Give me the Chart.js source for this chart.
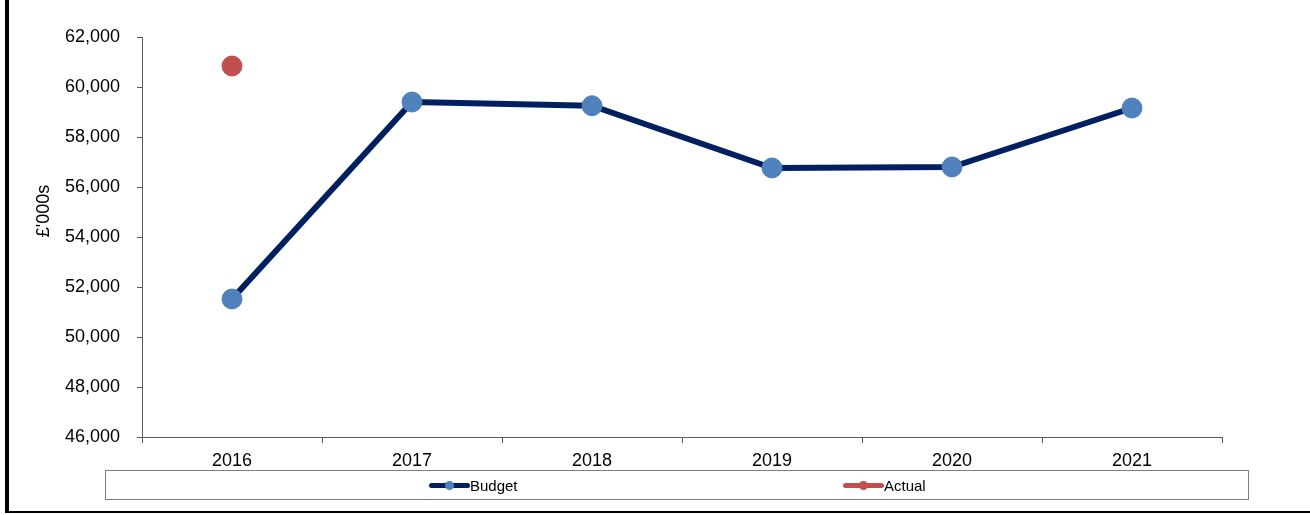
<!DOCTYPE html>
<html>
<head>
<meta charset="utf-8">
<script src="https://cdn.jsdelivr.net/npm/chart.js@4.4.1/dist/chart.umd.min.js"></script>
<style>
  html, body { margin: 0; padding: 0; background: #fff; }
  #wrap { position: relative; width: 1310px; height: 515px; overflow: hidden; font-family: "Liberation Sans", Arial, sans-serif; }
  #chart { position: absolute; left: 0; top: 0; }
  #frame { position: absolute; left: 5px; top: 0; width: 1305px; height: 513px; box-sizing: border-box;
           border-left: 4px solid #000; border-bottom: 2px solid #000; pointer-events: none; }
  #legendBox { position: absolute; left: 105px; top: 470px; width: 1144px; height: 30px; box-sizing: border-box;
               border: 1px solid #7f7f7f; }
  .lg-item { position: absolute; top: 475px; height: 20px; display: flex; align-items: center; font-size: 15px; color: #000; }
  .lg-sample { position: relative; width: 41px; height: 20px; }
  .lg-line { position: absolute; left: 0; right: 0; top: 8px; height: 5px; border-radius: 3px; }
  .lg-dot { position: absolute; left: 16px; top: 6px; width: 9px; height: 9px; border-radius: 50%; }
</style>
</head>
<body>
<div id="wrap">
  <canvas id="chart" width="1310" height="515"></canvas>
  <div id="legendBox"></div>
  <div id="legend"></div>
  <div id="frame"></div>
</div>
<script>
// data
const years = ['2016', '2017', '2018', '2019', '2020', '2021'];
const budget = [51520, 59400, 59250, 56760, 56800, 59160];
const actual = [60840, null, null, null, null, null];
const yTicks = [46000, 48000, 50000, 52000, 54000, 56000, 58000, 60000, 62000];
const yTitle = '£\'000s';

const navy = '#002060';
const blue = '#4F81BD';
const red = '#C0504D';
const axisColor = '#595959';
const fontFamily = '"Liberation Sans", Arial, sans-serif';

// axis title sits a bit above the middle of the axis, like the original
const yTitlePlugin = {
    id: 'yTitle',
    afterDraw: function(chart) {
        const c = chart.ctx;
        c.save();
        c.translate(44, 211);
        c.rotate(-Math.PI / 2);
        c.font = '18px ' + fontFamily;
        c.fillStyle = '#000';
        c.textAlign = 'center';
        c.textBaseline = 'middle';
        c.fillText(yTitle, 0, 0);
        c.restore();
    }
};

const ctx = document.getElementById('chart').getContext('2d');
const chart = new Chart(ctx, {
    type: 'line',
    data: {
        labels: years,
        datasets: [{
            label: 'Budget',
            data: budget,
            borderColor: navy,
            borderWidth: 6,
            borderJoinStyle: 'round',
            borderCapStyle: 'round',
            tension: 0,
            pointRadius: 10,
            pointBorderWidth: 1,
            pointBackgroundColor: blue,
            pointBorderColor: blue,
            lineSample: navy,
            dotSample: blue
        }, {
            label: 'Actual',
            data: actual,
            showLine: false,
            borderColor: red,
            pointRadius: 10,
            pointBorderWidth: 1,
            pointBackgroundColor: red,
            pointBorderColor: red,
            lineSample: red,
            dotSample: red
        }]
    },
    plugins: [yTitlePlugin],
    options: {
        responsive: false,
        animation: false,
        layout: { padding: { top: 37, right: 88, bottom: 0, left: 0 } },
        plugins: {
            legend: { display: false },
            tooltip: { enabled: false }
        },
        scales: {
            x: {
                type: 'category',
                offset: true,
                afterFit: function(scale) { scale.height = 78; },
                grid: {
                    offset: true,
                    drawOnChartArea: false,
                    drawTicks: true,
                    tickLength: 6,
                    color: axisColor,
                    lineWidth: 1
                },
                border: { display: true, color: axisColor, width: 1 },
                ticks: {
                    color: '#000',
                    padding: 7,
                    maxRotation: 0,
                    font: { family: fontFamily, size: 18 }
                }
            },
            y: {
                min: 46000,
                max: 62000,
                afterFit: function(scale) { scale.width = 142; },
                afterBuildTicks: function(scale) {
                    scale.ticks = yTicks.map(v => ({ value: v }));
                },
                grid: {
                    drawOnChartArea: false,
                    drawTicks: true,
                    tickLength: 5,
                    color: axisColor,
                    lineWidth: 1
                },
                border: { display: true, color: axisColor, width: 1 },
                ticks: {
                    color: '#000',
                    padding: 17,
                    font: { family: fontFamily, size: 18 },
                    callback: function(value) { return value.toLocaleString('en-GB'); }
                }
            }
        }
    }
});

// legend, laid out like the original box
const legendPos = [429, 843];
const legendEl = document.getElementById('legend');
chart.data.datasets.forEach(function(ds, i) {
    const item = document.createElement('div');
    item.className = 'lg-item';
    item.style.left = legendPos[i] + 'px';
    item.innerHTML = '<span class="lg-sample"><span class="lg-line" style="background:' + ds.lineSample + '"></span>' +
        '<span class="lg-dot" style="background:' + ds.dotSample + '"></span></span><span>' + ds.label + '</span>';
    legendEl.appendChild(item);
});
</script>
</body>
</html>
